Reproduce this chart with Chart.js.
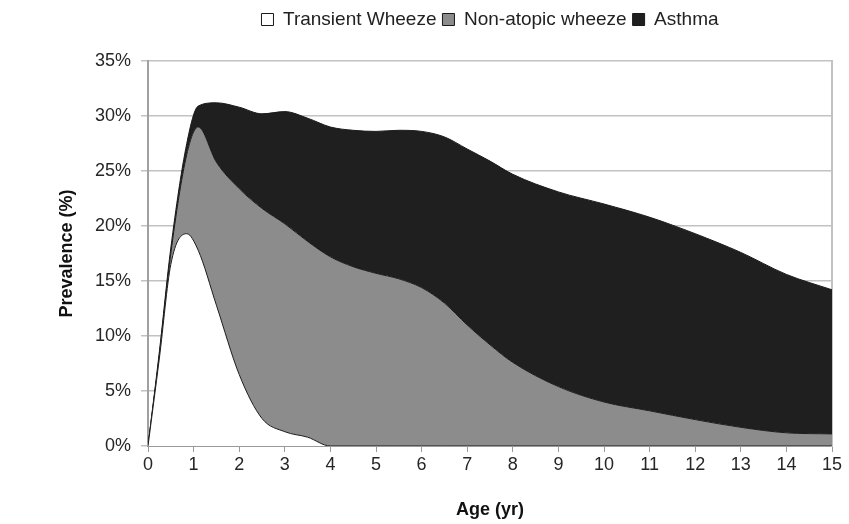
<!DOCTYPE html>
<html>
<head>
<meta charset="utf-8">
<script src="https://cdn.jsdelivr.net/npm/chart.js@4"></script>
<style>
  html, body { margin: 0; padding: 0; background: #fff; }
</style>
</head>
<body>
<canvas id="chart" width="849" height="524"></canvas>
<script>
// age in years (x positions of the read points)
const ages = [0, 0.25, 0.5, 0.85, 1.1, 1.5, 2, 2.5, 3, 3.5, 4, 4.5, 5, 5.5, 6, 6.5, 7, 7.5, 8, 9, 10, 11, 12, 13, 14, 15];

// upper edge of each band (cumulative prevalence, %)
const transientTop = [0, 8, 16.5, 19.3, 17.8, 12.8, 6.5, 2.5, 1.3, 0.8, 0, 0, 0, 0, 0, 0, 0, 0, 0, 0, 0, 0, 0, 0, 0, 0];
const nonAtopicTop = [0, 8.3, 17.5, 26.5, 29, 25.8, 23.4, 21.6, 20.2, 18.6, 17.2, 16.3, 15.7, 15.2, 14.4, 13, 11, 9.2, 7.6, 5.4, 4, 3.2, 2.4, 1.7, 1.2, 1.1];
const asthmaTop = [0, 8.6, 18, 27.5, 30.9, 31.2, 30.8, 30.2, 30.4, 29.8, 29, 28.7, 28.6, 28.7, 28.6, 28.1, 27, 25.9, 24.7, 23.1, 22, 20.8, 19.3, 17.6, 15.6, 14.2];

const seriesNames = ["Transient Wheeze", "Non-atopic wheeze", "Asthma"];
const yTicks = [0, 5, 10, 15, 20, 25, 30, 35];

const font = "'Liberation Sans', Arial, sans-serif";
const edge = "#1a1a1a";

function points(values) {
  return ages.map((a, i) => ({ x: a, y: values[i] }));
}

// legend: extra room below it, and centred over the plot area
const legendPlacement = {
  id: "legendPlacement",
  beforeLayout(chart) {
    const legend = chart.legend;
    if (legend && !legend._patched) {
      const fit = legend.fit;
      legend.fit = function () {
        fit.call(this);
        this.height += 22;
      };
      legend._patched = true;
    }
  },
  afterLayout(chart) {
    chart.legend.left = chart.chartArea.left;
    chart.legend.right = chart.chartArea.right;
  },
};

new Chart(document.getElementById("chart"), {
  type: "line",
  data: {
    datasets: [
      {
        label: seriesNames[0],
        data: points(transientTop),
        backgroundColor: "#ffffff",
        borderColor: edge,
        fill: "origin",
      },
      {
        label: seriesNames[1],
        data: points(nonAtopicTop),
        backgroundColor: "#8c8c8c",
        borderColor: edge,
        fill: "-1",
      },
      {
        label: seriesNames[2],
        data: points(asthmaTop),
        backgroundColor: "#1f1f1f",
        borderColor: edge,
        fill: "-1",
      },
    ],
  },
  plugins: [legendPlacement],
  options: {
    responsive: false,
    animation: false,
    elements: {
      point: { radius: 0 },
      line: { borderWidth: 1, cubicInterpolationMode: "monotone" },
    },
    layout: { padding: { top: 4, right: 16, left: 0, bottom: 0 } },
    plugins: {
      tooltip: { enabled: false },
      legend: {
        position: "top",
        labels: {
          color: "#222",
          font: { family: font, size: 19 },
          boxWidth: 12,
          boxHeight: 12,
          padding: 6,
        },
      },
    },
    scales: {
      x: {
        type: "linear",
        min: 0,
        max: 15,
        z: 1,
        afterFit: (scale) => { scale.height = 78; },
        ticks: {
          stepSize: 1,
          color: "#262626",
          font: { family: font, size: 18 },
          padding: 2,
          maxRotation: 0,
        },
        grid: { drawOnChartArea: false, color: "#9a9a9a", tickLength: 6 },
        border: { color: "#9a9a9a", width: 2 },
        title: {
          display: true,
          text: "Age (yr)",
          color: "#111",
          font: { family: font, size: 18, weight: "bold" },
          padding: { top: 0, bottom: 3 },
        },
      },
      y: {
        min: 0,
        max: 35,
        afterFit: (scale) => { scale.width = 148; },
        afterBuildTicks: (scale) => {
          scale.ticks = yTicks.map((v) => ({ value: v }));
        },
        ticks: {
          color: "#262626",
          font: { family: font, size: 18 },
          padding: 10,
          callback: (v) => v + "%",
        },
        grid: { color: "#c2c2c2", lineWidth: 1.5, tickLength: 7 },
        border: { color: "#a0a0a0", width: 2 },
        title: {
          display: true,
          text: "Prevalence (%)",
          color: "#111",
          font: { family: font, size: 18, weight: "bold" },
          padding: { top: 56, bottom: 0 },
        },
      },
      y2: {
        position: "right",
        min: 0,
        max: 35,
        afterFit: (scale) => { scale.width = 1; },
        ticks: { display: false },
        grid: { drawOnChartArea: false, drawTicks: false },
        border: { color: "#c2c2c2", width: 2 },
      },
    },
  },
});
</script>
</body>
</html>
